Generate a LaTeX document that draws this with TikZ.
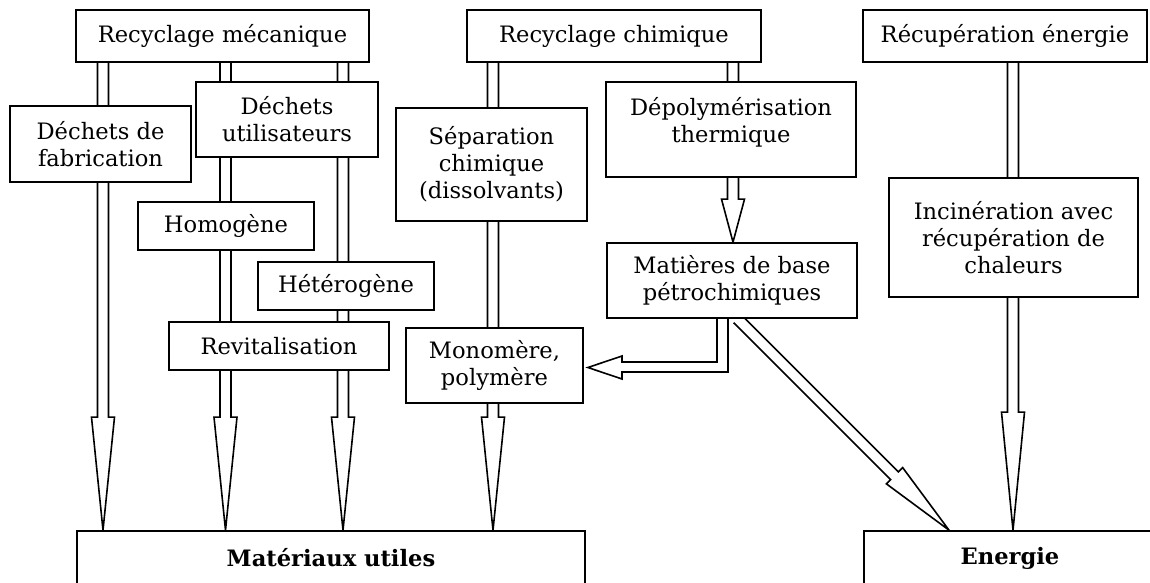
\documentclass[tikz,border=0pt]{standalone}
\usepackage{fontspec}
\setmainfont{DejaVu Serif}
\usetikzlibrary{calc}
\pgfdeclarelayer{background}
\pgfsetlayers{background,main}
\tikzset{
  box/.style={draw, fill=white, line width=1.7pt, align=center, inner sep=0pt,
    font=\fontsize{22.6}{27}\selectfont},
  boldbox/.style={box, font=\fontsize{22.6}{27}\selectfont\bfseries},
  fat/.style={draw, fill=white, line width=1.6pt, line join=miter},
}
\newcommand\fatarrow[3]{%
  \coordinate (fa-s) at (#1);
  \coordinate (fa-t) at (#2);
  \coordinate (fa-h) at ($(fa-t)!#3!(fa-s)$);
  \path[fat] ($(fa-s)!5.5pt!90:(fa-t)$) -- ($(fa-h)!5.5pt!90:(fa-t)$)
    -- ($(fa-h)!11.5pt!90:(fa-t)$) -- (fa-t) -- ($(fa-h)!11.5pt!-90:(fa-t)$)
    -- ($(fa-h)!5.5pt!-90:(fa-t)$) -- ($(fa-s)!5.5pt!-90:(fa-t)$);
}
\begin{document}
\begin{tikzpicture}[x=1pt,y=-1pt]
\useasboundingbox (0,0) rectangle (1150,583);
\clip (0,0) rectangle (1150,583);
% top row
\node[box, minimum width=293pt, minimum height=52pt] (RM) at (222.5,36) {Recyclage mécanique};
\node[box, minimum width=294pt, minimum height=52pt] (RC) at (614,36) {Recyclage chimique};
\node[box, minimum width=284pt, minimum height=52pt] (RE) at (1005,36) {Récupération énergie};
% mechanical branch
\node[box, minimum width=181pt, minimum height=76pt] (DF) at (100.5,144) {Déchets de\\fabrication};
\node[box, minimum width=182pt, minimum height=75pt] (DU) at (287,119.5) {Déchets\\utilisateurs};
\node[box, minimum width=176pt, minimum height=48pt] (HO) at (226,226) {Homogène};
\node[box, minimum width=176pt, minimum height=48pt] (HE) at (346,286) {Hétérogène};
\node[box, minimum width=220pt, minimum height=48pt] (RV) at (279,346) {Revitalisation};
% chemical branch
\node[box, minimum width=191pt, minimum height=113pt] (SE) at (491.5,164.5) {Séparation\\chimique\\(dissolvants)};
\node[box, minimum width=177pt, minimum height=75pt] (MO) at (494.5,365.5) {Monomère,\\polymère};
\node[box, minimum width=250pt, minimum height=95pt, text depth=19pt] (DP) at (731,129.5) {Dépolymérisation\\thermique};
\node[box, minimum width=250pt, minimum height=75pt] (MB) at (732,280.5) {Matières de base\\pétrochimiques};
% energy branch
\node[box, minimum width=249pt, minimum height=119pt] (IN) at (1013.5,237.5) {Incinération avec\\récupération de\\chaleurs};
% results
\node[boldbox, minimum width=508pt, minimum height=54pt] (MU) at (331,558) {Matériaux utiles};
\node[boldbox, minimum width=292pt, minimum height=54pt] (EN) at (1010,558) {Energie};
% arrows
\begin{pgfonlayer}{background}
\fatarrow{RM.south -| 103,0}{MU.north -| 103,0}{113pt}
\fatarrow{RM.south -| 225.5,0}{MU.north -| 225.5,0}{113pt}
\fatarrow{RM.south -| 343,0}{MU.north -| 343,0}{113pt}
\fatarrow{RC.south -| 493,0}{MU.north -| 493,0}{113pt}
\fatarrow{RC.south -| 733,0}{MB.north -| 733,0}{43pt}
\fatarrow{MB.south -| 737.5,0}{EN.north -| 949,0}{77pt}
\fatarrow{RE.south -| 1013,0}{EN.north -| 1013,0}{118pt}
\path[fat] (MB.south -| 717,0) -- (717,362) -- (622,362) -- (622,356)
  -- ($(MO.east)+(4,2)$) -- (622,379) -- (622,372) -- (728,372) -- (MB.south -| 728,0);
\end{pgfonlayer}
\end{tikzpicture}
\end{document}
